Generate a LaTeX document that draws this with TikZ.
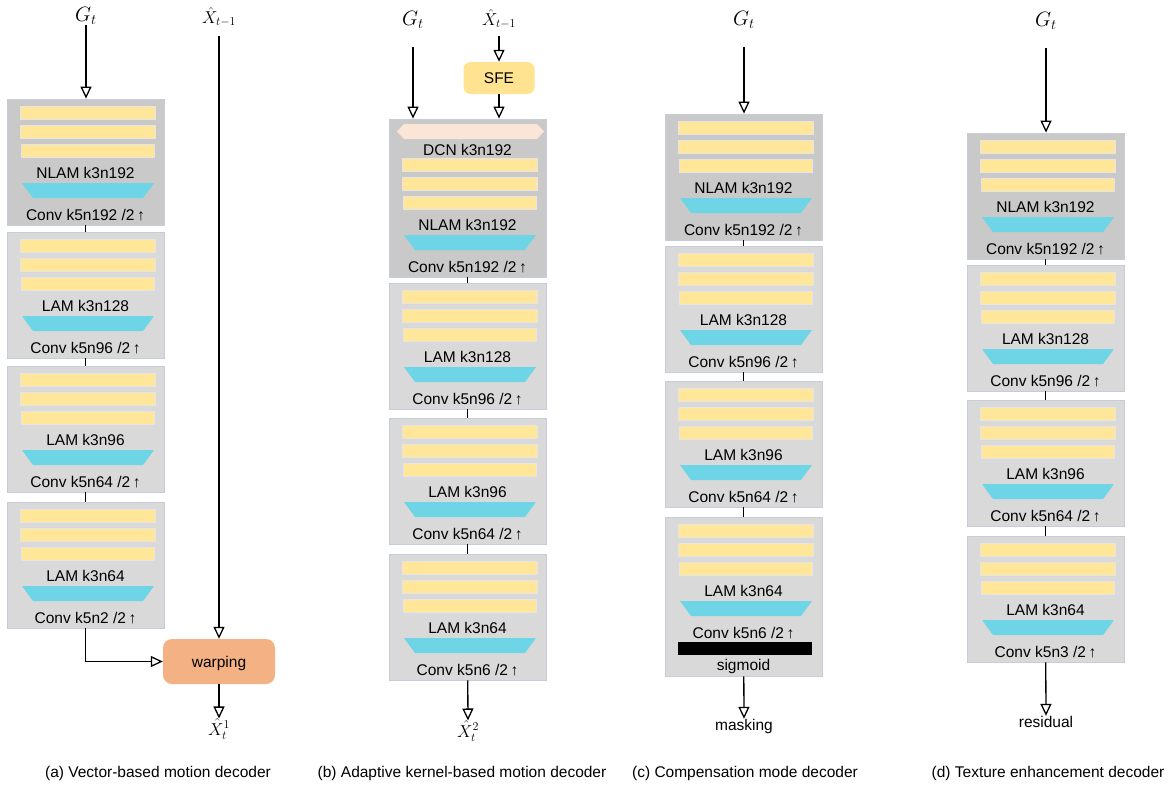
\documentclass[tikz,border=0pt]{standalone}
\usepackage{fontspec}
\setmainfont{Liberation Sans}
\usetikzlibrary{arrows.meta,calc}
\definecolor{BarClr}{HTML}{FFE699}
\definecolor{TrapClr}{HTML}{6DD5E6}
\definecolor{HeadClr}{HTML}{C9C9C9}
\definecolor{BlockClr}{HTML}{D9D9D9}
\definecolor{EdgeClr}{HTML}{C6CDD8}
\definecolor{DcnClr}{HTML}{FBE5D6}
\definecolor{SfeClr}{HTML}{FFE391}
\definecolor{WarpClr}{HTML}{F4B183}

\tikzset{
  blk/.style={draw=EdgeClr,line width=.8pt,minimum width=157pt,minimum height=126pt,inner sep=0pt},
  bar/.style={fill=BarClr,draw=black!10,line width=.5pt},
  trap/.style={fill=TrapClr},
  lbl/.style={font=\fontsize{15.5}{18}\selectfont,inner sep=0pt,text height=11pt,text depth=0pt},
  sym/.style={font=\fontsize{20}{24}\selectfont,inner sep=0pt},
  hsym/.style={font=\fontsize{18}{22}\selectfont,inner sep=0pt},
  arr/.style={line width=1.3pt,-{Triangle[open,fill=white,length=12pt,width=11pt]}},
  link/.style={line width=1.3pt}
}

% bars, trapezoid and the two labels of one block
\newcommand\blockbody[5]{%
  \begin{scope}[shift={(#2,#3)}]
    \filldraw[bar] (13,7) rectangle (148,20);
    \filldraw[bar] (13,26) rectangle (148,39);
    \filldraw[bar] (14,45) rectangle (147,58);
    \node[lbl] (#1m) at (78.5,74) {#4};
    \fill[trap] (15,84) -- (147,84) -- (136,99) -- (26,99) -- cycle;
    \node[lbl] (#1c) at (78.5,116) {#5};
  \end{scope}}

\begin{document}
\begin{tikzpicture}[x=1pt,y=-1pt]
\useasboundingbox (0,0) rectangle (1174,787);

% (a)
\node[blk,fill=HeadClr] (A1) at (85.5,162) {};
\blockbody{A1}{7}{99}{NLAM k3n192}{Conv k5n192 /2\,↑}
\node[blk,fill=BlockClr] (A2) at (85.5,295) {};
\blockbody{A2}{7}{232}{LAM k3n128}{Conv k5n96 /2\,↑}
\node[blk,fill=BlockClr] (A3) at (85.5,429) {};
\blockbody{A3}{7}{366}{LAM k3n96}{Conv k5n64 /2\,↑}
\node[blk,fill=BlockClr] (A4) at (85.5,565) {};
\blockbody{A4}{7}{502}{LAM k3n64}{Conv k5n2 /2\,↑}

\node[sym] (GA) at (86,16) {$G_t$};
\node[hsym] (XA) at (219,17) {$\hat{X}_{t-1}$};
\node[lbl,fill=WarpClr,rounded corners=9pt,minimum width=112pt,minimum height=45pt] (W) at (219,661.5) {warping};
\node[hsym] (XA1) at (219,729) {$\hat{X}_t^1$};

\draw[link] (A1) -- (A2);
\draw[link] (A2) -- (A3);
\draw[link] (A3) -- (A4);
\draw[arr] (GA) -- (GA |- A1.north);
\draw[arr,shorten <=9pt] (XA) -- (W);
\draw[arr] (A4) |- (W);
\draw[arr] (W) -- (XA1);

\node[lbl] (CA) at (158,772) {(a) Vector-based motion decoder};

% (b)
\node[blk,fill=HeadClr,minimum height=158pt] (B1) at (467.5,198) {};
\fill[DcnClr] (397,131.5) -- (404,124) -- (537,124) -- (544,131.5) -- (537,139) -- (404,139) -- cycle;
\node[lbl] (B1d) at (467.5,150) {DCN k3n192};
\blockbody{B1}{389}{151}{NLAM k3n192}{Conv k5n192 /2\,↑}
\node[blk,fill=BlockClr] (B2) at (467.5,346) {};
\blockbody{B2}{389}{283}{LAM k3n128}{Conv k5n96 /2\,↑}
\node[blk,fill=BlockClr] (B3) at (467.5,481) {};
\blockbody{B3}{389}{418}{LAM k3n96}{Conv k5n64 /2\,↑}
\node[blk,fill=BlockClr] (B4) at (467.5,617) {};
\blockbody{B4}{389}{554}{LAM k3n64}{Conv k5n6 /2\,↑}

\node[sym] (GB) at (413,20) {$G_t$};
\node[hsym] (XB) at (499,19) {$\hat{X}_{t-1}$};
\node[lbl,fill=SfeClr,rounded corners=7pt,minimum width=71pt,minimum height=32pt] (SFE) at (499,78) {SFE};
\node[hsym] (XB2) at (468,731) {$\hat{X}_t^2$};

\draw[link] (B1) -- (B2);
\draw[link] (B2) -- (B3);
\draw[link] (B3) -- (B4);
\draw[arr,shorten <=18pt] (GB) -- (GB |- B1.north);
\draw[arr,shorten <=7pt] (XB) -- (SFE);
\draw[arr] (SFE) -- (SFE |- B1.north);
\draw[arr] (B4) -- (XB2);

\node[lbl] (CB) at (462,772) {(b) Adaptive kernel-based motion decoder};

% (c)
\node[blk,fill=HeadClr] (C1) at (743.5,177) {};
\blockbody{C1}{665}{114}{NLAM k3n192}{Conv k5n192 /2\,↑}
\node[blk,fill=BlockClr] (C2) at (743.5,309) {};
\blockbody{C2}{665}{246}{LAM k3n128}{Conv k5n96 /2\,↑}
\node[blk,fill=BlockClr] (C3) at (743.5,444) {};
\blockbody{C3}{665}{381}{LAM k3n96}{Conv k5n64 /2\,↑}
\node[blk,fill=BlockClr,minimum height=159pt] (C4) at (743.5,596.5) {};
\blockbody{C4}{665}{517}{LAM k3n64}{Conv k5n6 /2\,↑}
\fill (678,642) rectangle (812,655);
\node[lbl] (C4s) at (743.5,665) {sigmoid};

\node[sym] (GC) at (744,20) {$G_t$};
\node[lbl] (MK) at (744,724.5) {masking};

\draw[link] (C1) -- (C2);
\draw[link] (C2) -- (C3);
\draw[link] (C3) -- (C4);
\draw[arr,shorten <=18pt] (GC) -- (GC |- C1.north);
\draw[arr] (C4) -- (MK);

\node[lbl] (CC) at (745,772) {(c) Compensation mode decoder};

% (d)
\node[blk,fill=HeadClr] (D1) at (1045.5,196) {};
\blockbody{D1}{967}{133}{NLAM k3n192}{Conv k5n192 /2\,↑}
\node[blk,fill=BlockClr] (D2) at (1045.5,328) {};
\blockbody{D2}{967}{265}{LAM k3n128}{Conv k5n96 /2\,↑}
\node[blk,fill=BlockClr] (D3) at (1045.5,463) {};
\blockbody{D3}{967}{400}{LAM k3n96}{Conv k5n64 /2\,↑}
\node[blk,fill=BlockClr] (D4) at (1045.5,599) {};
\blockbody{D4}{967}{536}{LAM k3n64}{Conv k5n3 /2\,↑}

\node[sym] (GD) at (1046,21) {$G_t$};
\node[lbl] (RS) at (1046,721.5) {residual};

\draw[link] (D1) -- (D2);
\draw[link] (D2) -- (D3);
\draw[link] (D3) -- (D4);
\draw[arr,shorten <=18pt] (GD) -- (GD |- D1.north);
\draw[arr] (D4) -- (RS);

\node[lbl] (CD) at (1048,772) {(d) Texture enhancement decoder};

\end{tikzpicture}
\end{document}
